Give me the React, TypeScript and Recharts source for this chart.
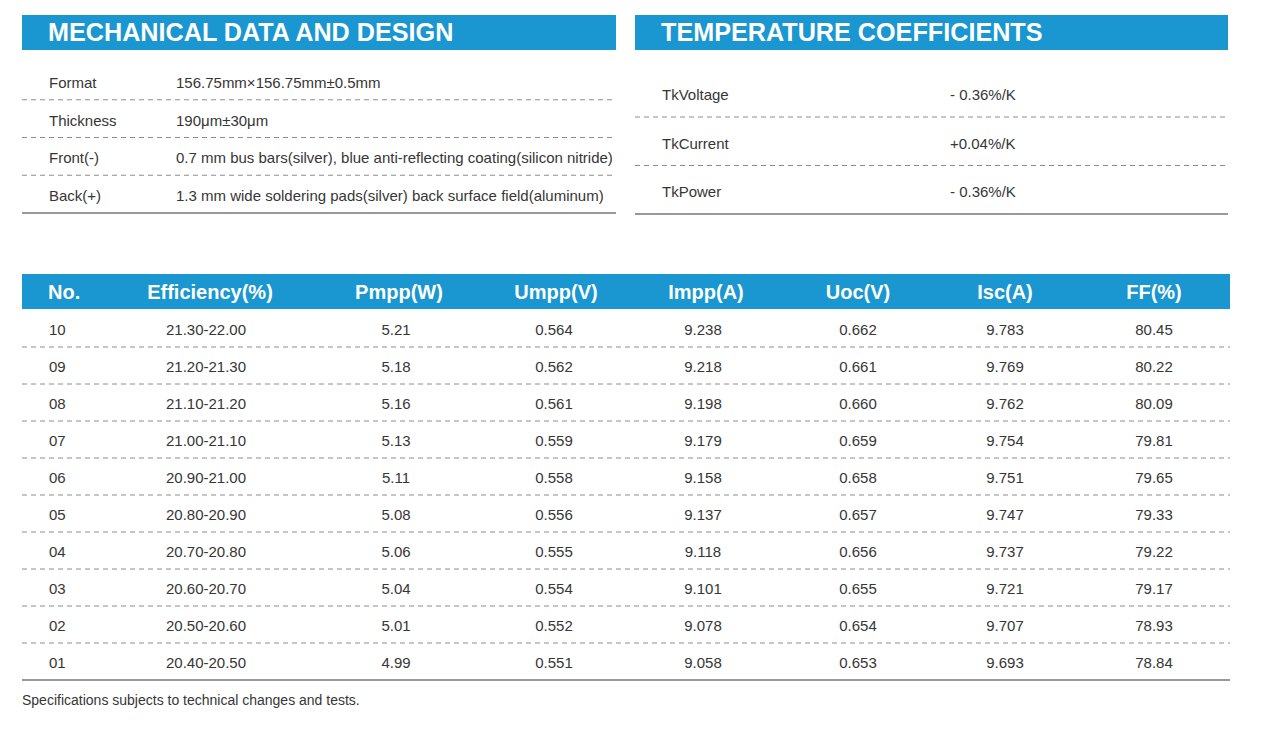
import { ReferenceArea, ReferenceLine, Scatter, ScatterChart, XAxis, YAxis } from 'recharts';

const FONT = '"Liberation Sans", Arial, Helvetica, sans-serif';
const BLUE = '#1a96d1';
const TEXT_COLOR = '#363636';
const DASH_COLOR = '#8c8c8c';
const RULE_COLOR = '#777777';

// mechanical data
const MECH_LABELS = ['Format', 'Thickness', 'Front(-)', 'Back(+)'];
const MECH_VALUES = [
  '156.75mm×156.75mm±0.5mm',
  '190μm±30μm',
  '0.7 mm bus bars(silver), blue anti-reflecting coating(silicon nitride)',
  '1.3 mm wide soldering pads(silver) back surface field(aluminum)',
];

// temperature coefficients
const TEMP_LABELS = ['TkVoltage', 'TkCurrent', 'TkPower'];
const TEMP_VALUES = ['- 0.36%/K', '+0.04%/K', '- 0.36%/K'];

// efficiency classes
const HEADERS = ['No.', 'Efficiency(%)', 'Pmpp(W)', 'Umpp(V)', 'Impp(A)', 'Uoc(V)', 'Isc(A)', 'FF(%)'];
const NOS = ['10', '09', '08', '07', '06', '05', '04', '03', '02', '01'];
const EFFICIENCY = [
  '21.30-22.00', '21.20-21.30', '21.10-21.20', '21.00-21.10', '20.90-21.00',
  '20.80-20.90', '20.70-20.80', '20.60-20.70', '20.50-20.60', '20.40-20.50',
];
const PMPP = ['5.21', '5.18', '5.16', '5.13', '5.11', '5.08', '5.06', '5.04', '5.01', '4.99'];
const UMPP = ['0.564', '0.562', '0.561', '0.559', '0.558', '0.556', '0.555', '0.554', '0.552', '0.551'];
const IMPP = ['9.238', '9.218', '9.198', '9.179', '9.158', '9.137', '9.118', '9.101', '9.078', '9.058'];
const UOC = ['0.662', '0.661', '0.660', '0.659', '0.658', '0.657', '0.656', '0.655', '0.654', '0.653'];
const ISC = ['9.783', '9.769', '9.762', '9.754', '9.751', '9.747', '9.737', '9.721', '9.707', '9.693'];
const FF = ['80.45', '80.22', '80.09', '79.81', '79.65', '79.33', '79.22', '79.17', '78.93', '78.84'];

type Anchor = 'start' | 'middle';
type ColLayout = { x: number; anchor: Anchor; dx?: number };
type Cell = { x: number; y: number; text: string; anchor: Anchor; dx: number };

type PanelProps = {
  width: number;
  title?: string;
  headers?: string[];
  columns: string[][];
  layout: ColLayout[];
  headerPx: number;
  gapPx: number;
  rowPx: number;
  textDy: number;
};

function TablePanel({ width, title, headers, columns, layout, headerPx, gapPx, rowPx, textDy }: PanelProps) {
  const rowCount = columns[0].length;
  const top = -(headerPx + gapPx) / rowPx;
  const headBottom = top + headerPx / rowPx;
  const height = headerPx + gapPx + rowCount * rowPx;

  const cells: Cell[] = columns.flatMap((values, c) =>
    values.map((text, r) => ({
      x: layout[c].x,
      y: r + 0.5,
      text,
      anchor: layout[c].anchor,
      dx: layout[c].dx ?? 0,
    })),
  );
  const headCells: Cell[] = (headers ?? []).map((text, c) => ({
    x: layout[c].x,
    y: (top + headBottom) / 2,
    text,
    anchor: layout[c].anchor,
    dx: 0,
  }));
  const separators = Array.from({ length: rowCount - 1 }, (_, i) => i + 1);

  return (
    <ScatterChart width={width} height={height + 2} margin={{ top: 0, right: 0, bottom: 2, left: 0 }}>
      <XAxis type="number" dataKey="x" domain={[0, width]} allowDataOverflow hide />
      <YAxis type="number" dataKey="y" domain={[top, rowCount]} allowDataOverflow reversed hide />
      <ReferenceArea
        x1={0}
        x2={width}
        y1={top}
        y2={headBottom}
        fill={BLUE}
        fillOpacity={1}
        stroke="none"
        label={
          title
            ? {
                value: title,
                position: 'insideLeft',
                offset: 26,
                fill: '#ffffff',
                fontSize: 25.2,
                fontWeight: 700,
                fontFamily: FONT,
              }
            : undefined
        }
      />
      {separators.map((y) => (
        <ReferenceLine key={y} y={y} stroke={DASH_COLOR} strokeDasharray="5 4" />
      ))}
      <ReferenceLine y={rowCount} stroke={RULE_COLOR} strokeWidth={1.3} />
      {headCells.length > 0 && (
        <Scatter
          data={headCells}
          isAnimationActive={false}
          shape={(p: any) => (
            <text
              x={p.cx}
              y={p.cy}
              dy={7}
              textAnchor={p.payload.anchor}
              fontSize={20}
              fontWeight={700}
              fill="#ffffff"
              fontFamily={FONT}
            >
              {p.payload.text}
            </text>
          )}
        />
      )}
      <Scatter
        data={cells}
        isAnimationActive={false}
        shape={(p: any) => (
          <text
            x={p.cx + p.payload.dx}
            y={p.cy}
            dy={textDy}
            textAnchor={p.payload.anchor}
            fontSize={15}
            fill={TEXT_COLOR}
            fontFamily={FONT}
          >
            {p.payload.text}
          </text>
        )}
      />
    </ScatterChart>
  );
}

const MECH_LAYOUT: ColLayout[] = [
  { x: 27, anchor: 'start' },
  { x: 154, anchor: 'start' },
];
const TEMP_LAYOUT: ColLayout[] = [
  { x: 27, anchor: 'start' },
  { x: 315, anchor: 'start' },
];
const MAIN_LAYOUT: ColLayout[] = [
  { x: 26, anchor: 'start', dx: 1 },
  { x: 188, anchor: 'middle', dx: -4 },
  { x: 377, anchor: 'middle', dx: -3 },
  { x: 534, anchor: 'middle', dx: -2 },
  { x: 684, anchor: 'middle', dx: -3 },
  { x: 836, anchor: 'middle' },
  { x: 983, anchor: 'middle' },
  { x: 1132, anchor: 'middle' },
];

export default function App() {
  return (
    <div
      style={{
        position: 'absolute',
        left: 0,
        top: 0,
        width: 1286,
        height: 731,
        background: '#ffffff',
        fontFamily: FONT,
      }}
    >
      <div style={{ position: 'absolute', left: 22, top: 15 }}>
        <TablePanel
          width={594}
          title="MECHANICAL DATA AND DESIGN"
          columns={[MECH_LABELS, MECH_VALUES]}
          layout={MECH_LAYOUT}
          headerPx={35}
          gapPx={12}
          rowPx={37.75}
          textDy={7}
        />
      </div>
      <div style={{ position: 'absolute', left: 635, top: 15 }}>
        <TablePanel
          width={593}
          title="TEMPERATURE COEFFICIENTS"
          columns={[TEMP_LABELS, TEMP_VALUES]}
          layout={TEMP_LAYOUT}
          headerPx={35}
          gapPx={18.5}
          rowPx={48.5}
          textDy={7.5}
        />
      </div>
      <div style={{ position: 'absolute', left: 22, top: 274 }}>
        <TablePanel
          width={1208}
          headers={HEADERS}
          columns={[NOS, EFFICIENCY, PMPP, UMPP, IMPP, UOC, ISC, FF]}
          layout={MAIN_LAYOUT}
          headerPx={35}
          gapPx={1}
          rowPx={37}
          textDy={6}
        />
      </div>
      <div
        style={{
          position: 'absolute',
          left: 22,
          top: 692,
          fontSize: 14,
          lineHeight: '16px',
          color: TEXT_COLOR,
        }}
      >
        Specifications subjects to technical changes and tests.
      </div>
    </div>
  );
}
